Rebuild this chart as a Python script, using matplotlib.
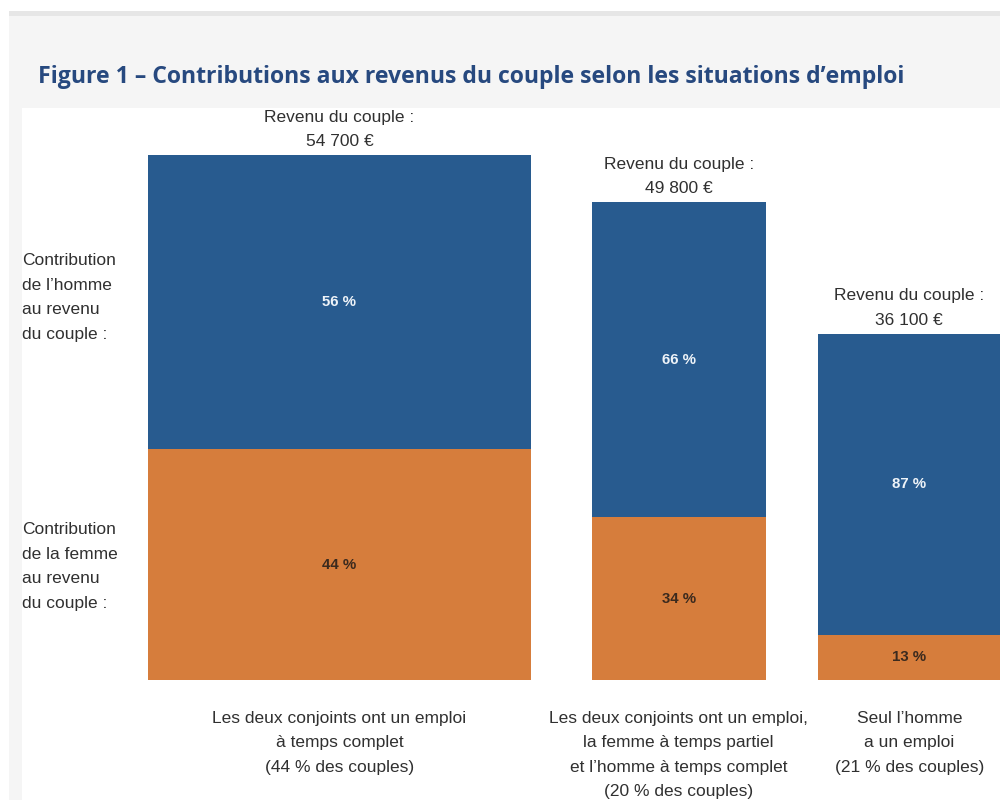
import matplotlib
matplotlib.use("Agg")
import matplotlib.pyplot as plt
from matplotlib.patches import Rectangle

# situations d'emploi, part des couples (%), revenu du couple (EUR), part de l'homme (%)
situations = [
    "Les deux conjoints ont un emploi\nà temps complet",
    "Les deux conjoints ont un emploi,\nla femme à temps partiel\net l’homme à temps complet",
    "Seul l’homme\na un emploi",
]
couple_share = [44, 20, 21]
couple_income = [54700, 49800, 36100]
man_share = [56, 66, 87]
woman_share = [44, 34, 13]

BLUE = "#285b8f"
ORANGE = "#d67d3c"
TEXT = "#303030"
NARROW = ["Liberation Sans Narrow", "Liberation Sans", "DejaVu Sans"]
LS = 1.8

W, H = 1000, 800


def fig_rect(x, y, w, h, color):
    # pixel box measured from the top-left corner
    fig.add_artist(Rectangle((x / W, 1 - (y + h) / H), w / W, h / H,
                             transform=fig.transFigure, facecolor=color,
                             edgecolor="none", zorder=0))


fig = plt.figure(figsize=(10, 8), dpi=100)
fig.patch.set_facecolor("white")
fig_rect(9, 11, 991, 5, "#e6e6e6")
fig_rect(9, 16, 991, 784, "#f5f5f5")
fig_rect(22, 108, 978, 692, "white")

fig.text(38 / W, 1 - 83 / H,
         "Figure 1 – Contributions aux revenus du couple selon les situations d’emploi",
         fontsize=16.6, fontweight="bold", family=["Open Sans", "DejaVu Sans"],
         color="#27497f", ha="left", va="baseline")

ax = fig.add_axes([22 / W, 0.15, 0.978, 0.715])
ax.set_xlim(-14.48, 97.93)
ax.set_ylim(0, 59600)
ax.axis("off")

gaps = [7, 6, 0]
left = 0
for i in range(len(situations)):
    w = couple_share[i]
    inc = couple_income[i]
    low = inc * woman_share[i] / 100
    high = inc * man_share[i] / 100
    ax.bar(left, low, width=w, align="edge", color=ORANGE, linewidth=0)
    ax.bar(left, high, width=w, bottom=low, align="edge", color=BLUE, linewidth=0)
    cx = left + w / 2

    ax.text(cx, low + high / 2, f"{man_share[i]} %", ha="center", va="center",
            fontsize=10.8, fontweight="bold", family=NARROW, color="#eef3f8")
    ax.text(cx, low / 2, f"{woman_share[i]} %", ha="center", va="center",
            fontsize=10.8, fontweight="bold", family=NARROW, color="#3b2a1e")

    amount = f"{inc:,}".replace(",", " ")
    ax.annotate(f"Revenu du couple :\n{amount} €", (cx, inc), xytext=(0, 4),
                textcoords="offset points", ha="center", va="bottom",
                fontsize=12.5, family=NARROW, color=TEXT, linespacing=LS)

    ax.annotate(f"{situations[i]}\n({couple_share[i]} % des couples)", (cx, 0),
                xytext=(0, -22), textcoords="offset points", ha="center", va="top",
                fontsize=12.5, family=NARROW, color=TEXT, linespacing=LS)
    left += w + gaps[i]

fig.text(22 / W, 1 - 253 / H, "Contribution\nde l’homme\nau revenu\ndu couple :",
         ha="left", va="top", fontsize=12.5, family=NARROW, color=TEXT, linespacing=LS)
fig.text(22 / W, 1 - 522 / H, "Contribution\nde la femme\nau revenu\ndu couple :",
         ha="left", va="top", fontsize=12.5, family=NARROW, color=TEXT, linespacing=LS)

fig.savefig("out.png", dpi=100, facecolor=fig.get_facecolor())
